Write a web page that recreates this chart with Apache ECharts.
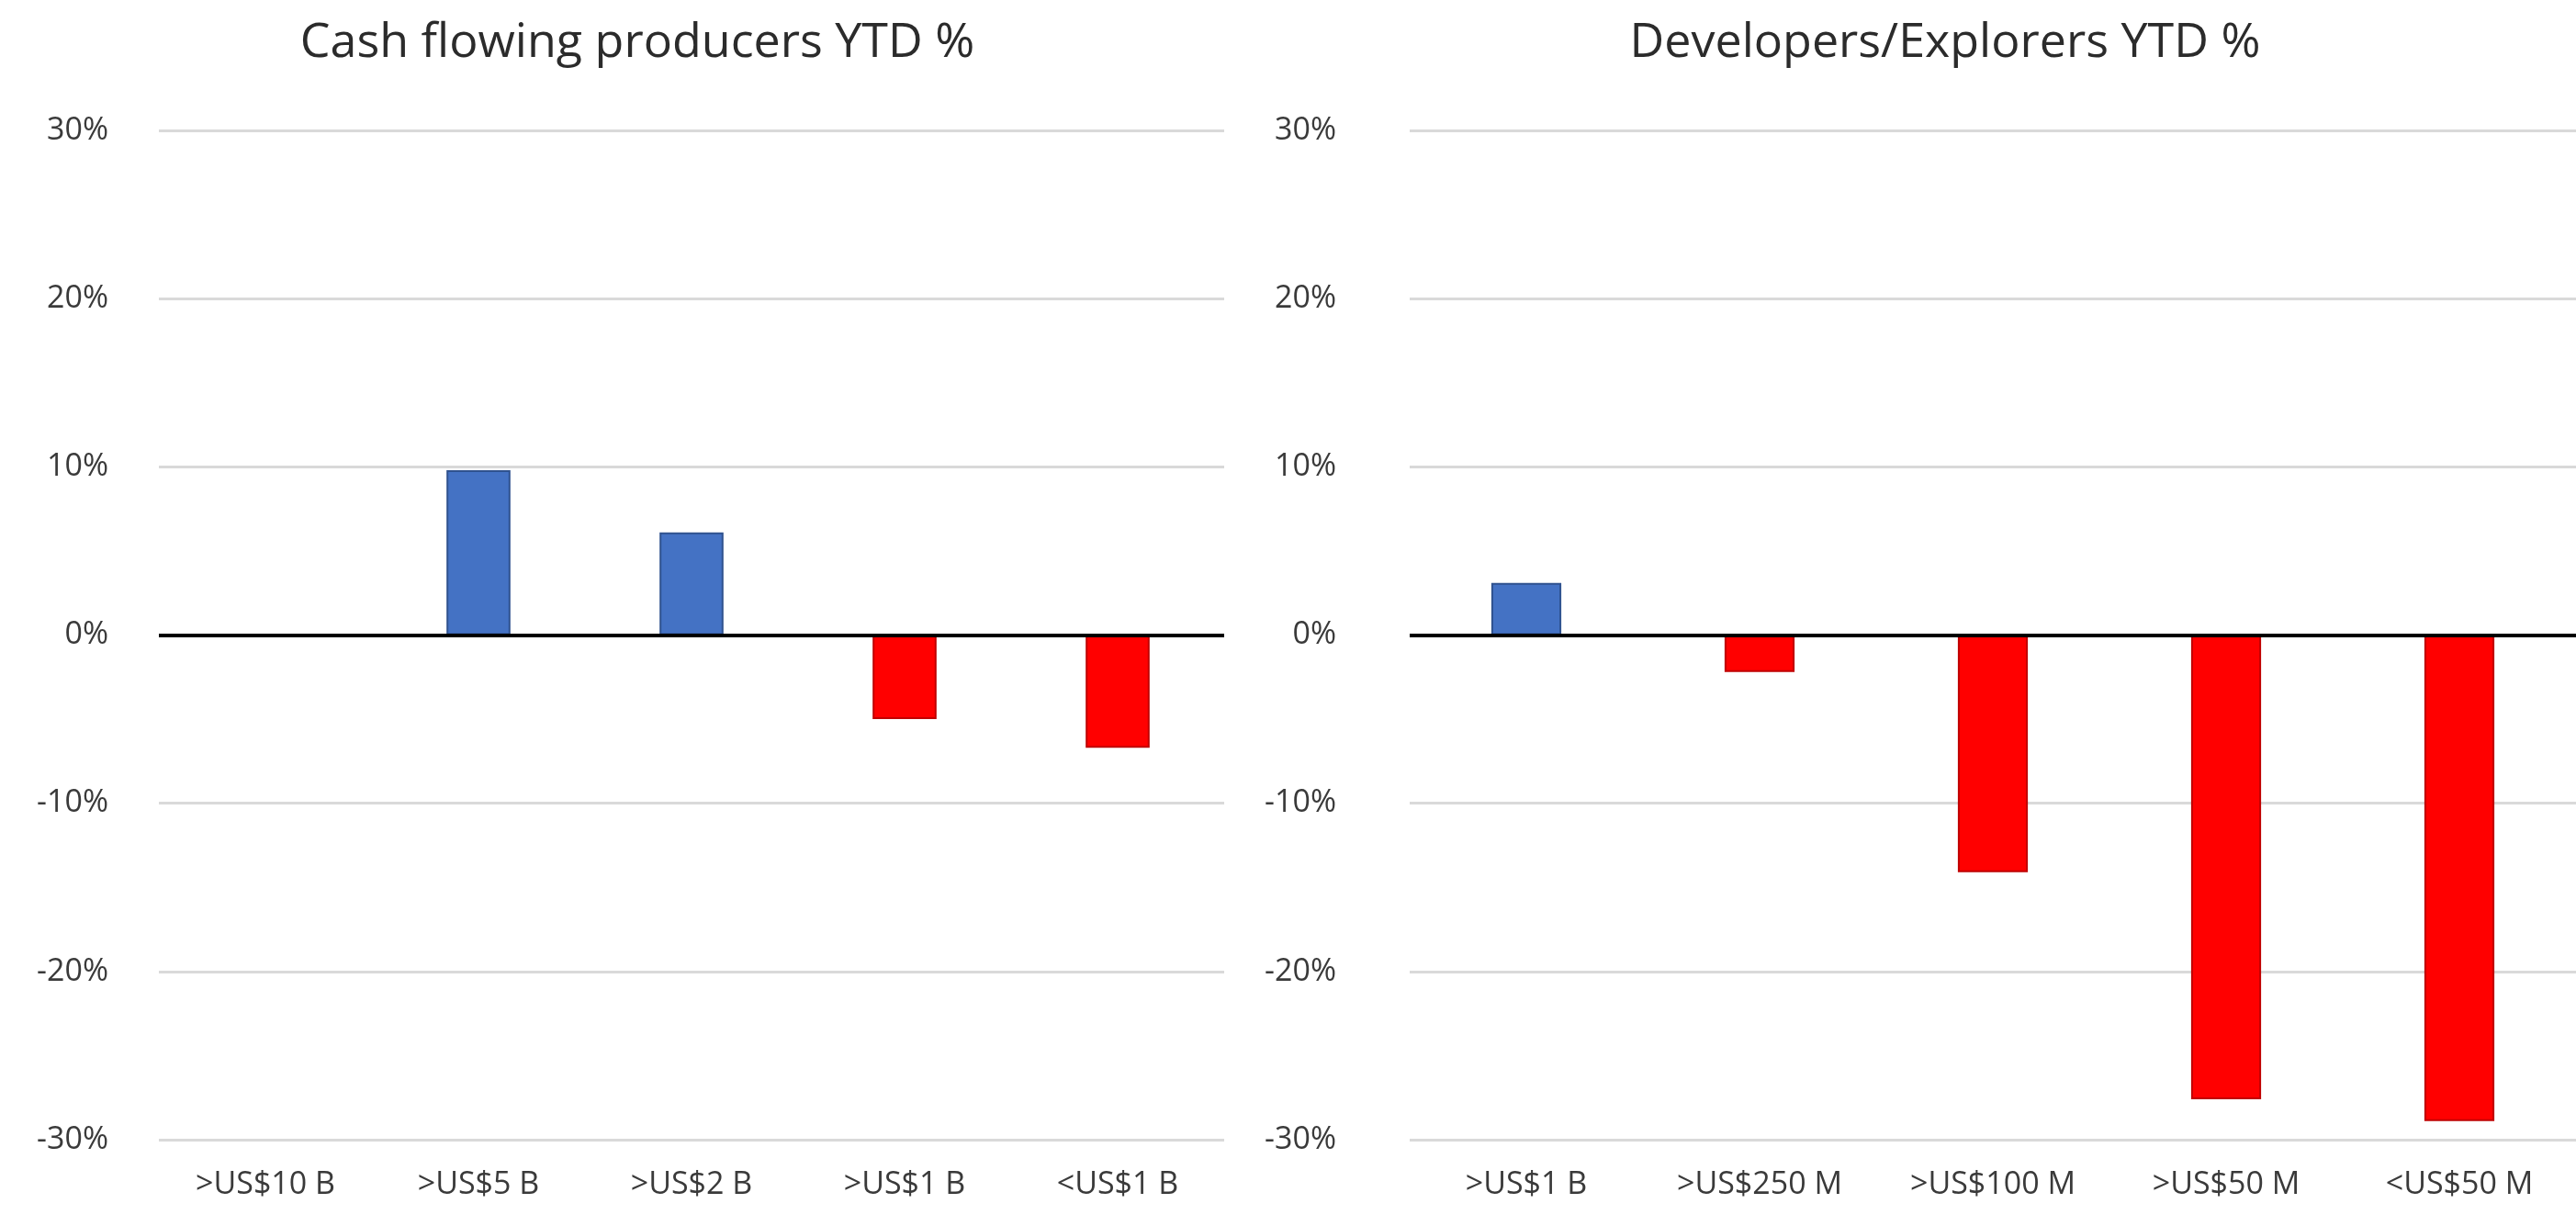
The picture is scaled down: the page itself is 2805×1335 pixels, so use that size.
<!DOCTYPE html>
<html>
<head>
<meta charset="utf-8">
<script src="https://cdn.jsdelivr.net/npm/echarts@6/dist/echarts.min.js"></script>
<style>
  html, body { margin: 0; padding: 0; background: #fff; }
  #main { width: 2805px; height: 1335px; }
</style>
</head>
<body>
<div id="main"></div>
<script>
  // 数据
  const producerTitle = 'Cash flowing producers YTD %'
  const producerCats = ['>US$10 B', '>US$5 B', '>US$2 B', '>US$1 B', '<US$1 B']
  const producerVals = [0, 9.8, 6.1, -5.0, -6.7]

  const explorerTitle = 'Developers/Explorers YTD %'
  const explorerCats = ['>US$1 B', '>US$250 M', '>US$100 M', '>US$50 M', '<US$50 M']
  const explorerVals = [3.1, -2.2, -14.1, -27.6, -28.9]

  const yMin = -30
  const yMax = 30
  const yStep = 10

  const font = 'Open Sans'
  const textColor = '#3A3A3A'
  const upColor = '#4472C4'
  const upBorder = '#2F528F'
  const downColor = '#FF0000'
  const downBorder = '#C00000'

  function barData (vals) {
    return vals.map(function (v) {
      return {
        value: v,
        itemStyle: {
          color: v >= 0 ? upColor : downColor,
          borderColor: v >= 0 ? upBorder : downBorder,
          borderWidth: 2
        }
      }
    })
  }

  function yAxisFor (gridIndex, margin) {
    return {
      type: 'value',
      gridIndex: gridIndex,
      min: yMin,
      max: yMax,
      interval: yStep,
      axisLine: { show: false },
      axisTick: { show: false },
      axisLabel: {
        formatter: '{value}%',
        color: textColor,
        fontFamily: font,
        fontSize: 34,
        margin: margin
      },
      splitLine: { lineStyle: { color: '#D9D9D9', width: 3 } }
    }
  }

  function xAxisFor (gridIndex, cats) {
    return {
      type: 'category',
      gridIndex: gridIndex,
      data: cats,
      axisLine: { show: false, onZero: false },
      axisTick: { show: false },
      axisLabel: {
        color: textColor,
        fontFamily: font,
        fontSize: 34,
        margin: 32,
        interval: 0
      }
    }
  }

  function seriesFor (index, vals) {
    return {
      type: 'bar',
      xAxisIndex: index,
      yAxisIndex: index,
      barWidth: '30%',
      data: barData(vals),
      markLine: {
        silent: true,
        symbol: 'none',
        label: { show: false },
        lineStyle: { color: '#000', width: 4, type: 'solid' },
        data: [{ yAxis: 0 }]
      }
    }
  }

  const chart = echarts.init(document.getElementById('main'))
  chart.setOption({
    backgroundColor: '#fff',
    animation: false,
    title: [
      {
        text: producerTitle,
        left: 689,
        top: 16,
        textAlign: 'center',
        textStyle: { fontFamily: font, fontSize: 52, fontWeight: 'normal', color: '#2B2B2B' }
      },
      {
        text: explorerTitle,
        left: 2113,
        top: 16,
        textAlign: 'center',
        textStyle: { fontFamily: font, fontSize: 52, fontWeight: 'normal', color: '#2B2B2B' }
      }
    ],
    grid: [
      { left: 173, width: 1160, top: 142, bottom: 94, containLabel: false },
      { left: 1535, right: 0, top: 142, bottom: 94, containLabel: false }
    ],
    xAxis: [xAxisFor(0, producerCats), xAxisFor(1, explorerCats)],
    yAxis: [yAxisFor(0, 55), yAxisFor(1, 80)],
    series: [seriesFor(0, producerVals), seriesFor(1, explorerVals)]
  })
</script>
</body>
</html>
